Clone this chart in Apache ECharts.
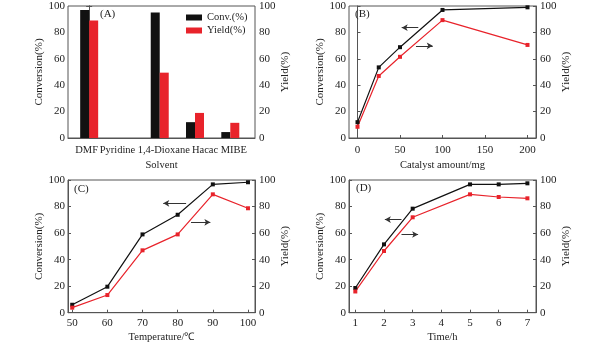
<!DOCTYPE html>
<html><head><meta charset="utf-8">
<script src="https://cdn.jsdelivr.net/npm/echarts@6/dist/echarts.min.js"></script>
<style>html,body{margin:0;padding:0;background:#fff}#c{width:596px;height:347px}</style>
</head><body><div id="c"></div>
<script>
// Panel A
const solvents = ['DMF', 'Pyridine', '1,4-Dioxane', 'Hacac', 'MIBE'];
const convA = [97, null, 95, 12, 4.5];
const yieldA = [89, null, 49.5, 19, 11.5];
// Panel B
const catalyst = [0, 25, 50, 100, 200];
const convB = [12, 53.5, 68.8, 97, 99];
const yieldB = [8.5, 47, 61.5, 89.3, 70.5];
// Panel C
const temps = [50, 60, 70, 80, 90, 100];
const convC = [6, 19.6, 59, 73.8, 96.7, 98.3];
const yieldC = [3.8, 13.3, 47, 59, 89.2, 78.7];
// Panel D
const times = [1, 2, 3, 5, 6, 7];
const convD = [18.6, 51.5, 78.4, 96.7, 96.7, 97.5];
const yieldD = [16, 46.5, 71.9, 89.2, 87.2, 86.2];
// tick labels
const yTicks = [0, 20, 40, 60, 80, 100];
const xTicksB = [0, 50, 100, 150, 200];
const xTicksC = [50, 60, 70, 80, 90, 100];
const xTicksD = [1, 2, 3, 4, 5, 6, 7];
// annotation arrows [x1, x2, y] (data space)
const arrowsB = [[52, 71.5, 83.6, 'left'], [68.8, 88.5, 69.8, 'right']];
const arrowsC = [[75.9, 82.4, 82.4, 'left'], [83.8, 89.3, 68.1, 'right']];
const arrowsD = [[2.03, 2.61, 70.2, 'left'], [2.61, 3.19, 58.9, 'right']];

const FONT = 'Liberation Serif';
const AX = '#555';
const BLACK = '#111';
const RED = '#e8232b';
const txt = {fontFamily: FONT, fontSize: 11, color: '#222'};
const txtS = {fontFamily: FONT, fontSize: 10.5, color: '#222'};

const grids = [
  {left: 68, top: 6, width: 187, height: 132},
  {left: 349, top: 6, width: 187, height: 132},
  {left: 68, top: 180, width: 187, height: 132.7},
  {left: 349, top: 180, width: 187, height: 132.7}
].map(g => Object.assign({show: true, borderColor: AX, borderWidth: 1, backgroundColor: 'transparent'}, g));

function yAxes(gi) {
  const base = {
    type: 'value', gridIndex: gi, min: 0, max: 100, interval: 20,
    nameLocation: 'middle', nameRotate: 90, nameGap: 19,
    nameTextStyle: txt,
    axisLine: {show: true, lineStyle: {color: AX}},
    axisTick: {show: true, inside: true, length: 3, lineStyle: {color: AX}},
    axisLabel: Object.assign({margin: 3}, txt),
    splitLine: {show: false}
  };
  return [
    Object.assign({}, base, {position: 'left', name: 'Conversion(%)'}),
    Object.assign({}, base, {position: 'right', name: 'Yield(%)', nameGap: 23, axisLabel: Object.assign({margin: 4}, txt)})
  ];
}

// small horizontal nudges of the solvent labels (padding = [top, right, bottom, left])
const shifts = [[0,5,0,0],[0,14,0,0],[0,0,0,8],[0,0,0,20],[0,0,0,7]];
const rich = {};
shifts.forEach((p, i) => { rich['c' + i] = Object.assign({padding: p}, txtS); });
const solventLabel = v => { const i = Math.round(v); return '{c' + i + '|' + solvents[i] + '}'; };

const xAxes = [
  {type: 'value', gridIndex: 0, min: -0.6, max: 4.7, name: 'Solvent', nameLocation: 'middle', nameGap: 22,
   nameTextStyle: txtS, axisLine: {lineStyle: {color: AX}}, axisTick: {show: false}, splitLine: {show: false},
   axisLabel: Object.assign({margin: 7, customValues: [0, 2, 4], rich: rich, formatter: solventLabel}, txtS)},
  {type: 'value', gridIndex: 0, position: 'bottom', min: -0.6, max: 4.7,
   axisLine: {show: false}, axisTick: {show: false}, splitLine: {show: false},
   axisLabel: Object.assign({margin: 7, customValues: [1, 3], rich: rich, formatter: solventLabel}, txtS)},
  {type: 'value', gridIndex: 1, min: -10, max: 210, name: 'Catalyst amount/mg', nameLocation: 'middle', nameGap: 22,
   nameTextStyle: txtS, axisLine: {lineStyle: {color: AX}}, splitLine: {show: false},
   axisTick: {inside: true, length: 3, lineStyle: {color: AX}, customValues: xTicksB},
   axisLabel: Object.assign({margin: 7, customValues: xTicksB}, txt)},
  {type: 'value', gridIndex: 2, min: 48.8, max: 102, name: 'Temperature/℃', nameLocation: 'middle', nameGap: 19,
   nameTextStyle: txtS, axisLine: {lineStyle: {color: AX}}, splitLine: {show: false},
   axisTick: {inside: true, length: 3, lineStyle: {color: AX}, customValues: xTicksC},
   axisLabel: Object.assign({margin: 5, customValues: xTicksC}, txt)},
  {type: 'value', gridIndex: 3, min: 0.78, max: 7.3, name: 'Time/h', nameLocation: 'middle', nameGap: 19,
   nameTextStyle: txtS, axisLine: {lineStyle: {color: AX}}, splitLine: {show: false},
   axisTick: {inside: true, length: 3, lineStyle: {color: AX}, customValues: xTicksD},
   axisLabel: Object.assign({margin: 5, customValues: xTicksD}, txt)}
];

const yAxisList = [].concat(yAxes(0), yAxes(1), yAxes(2), yAxes(3));

function pairs(xs, ys) { return xs.map((x, i) => [x, ys[i]]); }
function arrowLines(arr) {
  return arr.map(a => a[3] === 'left'
    ? [{coord: [a[0], a[2]], symbol: 'arrow'}, {coord: [a[1], a[2]], symbol: 'none'}]
    : [{coord: [a[0], a[2]], symbol: 'none'}, {coord: [a[1], a[2]], symbol: 'arrow'}]);
}
function lineSeries(xi, yi, data, color, arrows) {
  const s = {type: 'line', xAxisIndex: xi, yAxisIndex: yi, data: data, symbol: 'rect', symbolSize: 4,
    lineStyle: {color: color, width: 1.2}, itemStyle: {color: color}, silent: true, animation: false};
  if (arrows) s.markLine = {silent: true, symbolSize: [5, 6], label: {show: false},
    lineStyle: {color: '#333', width: 1, type: 'solid'}, data: arrowLines(arrows), animation: false};
  return s;
}

const series = [
  {type: 'bar', name: 'Conv.(%)', xAxisIndex: 0, yAxisIndex: 0, barWidth: 9, barGap: 0,
   data: solvents.map((s, i) => [i, convA[i]]), itemStyle: {color: BLACK}, animation: false},
  {type: 'bar', name: 'Yield(%)', xAxisIndex: 0, yAxisIndex: 1, barWidth: 9, barGap: 0,
   data: solvents.map((s, i) => [i, yieldA[i]]), itemStyle: {color: RED}, animation: false},
  lineSeries(2, 2, pairs(catalyst, convB), BLACK, arrowsB),
  lineSeries(2, 3, pairs(catalyst, yieldB), RED),
  lineSeries(3, 4, pairs(temps, convC), BLACK, arrowsC),
  lineSeries(3, 5, pairs(temps, yieldC), RED),
  lineSeries(4, 6, pairs(times, convD), BLACK, arrowsD),
  lineSeries(4, 7, pairs(times, yieldD), RED)
];

const titles = [['(A)', 100, 9], ['(B)', 355, 9], ['(C)', 74, 184], ['(D)', 356, 183]].map(t => ({
  text: t[0], left: t[1], top: t[2], padding: 0, textStyle: Object.assign({fontWeight: 'normal'}, txt)
}));

const chart = echarts.init(document.getElementById('c'), null, {renderer: 'canvas'});
chart.setOption({
  animation: false,
  backgroundColor: '#fff',
  title: titles,
  legend: {data: ['Conv.(%)', 'Yield(%)'], orient: 'vertical', left: 186, top: 12, itemWidth: 16, itemHeight: 6,
    itemGap: 2, padding: 0, textStyle: txtS, icon: 'rect'},
  grid: grids,
  xAxis: xAxes,
  yAxis: yAxisList,
  series: series
});
</script></body></html>
